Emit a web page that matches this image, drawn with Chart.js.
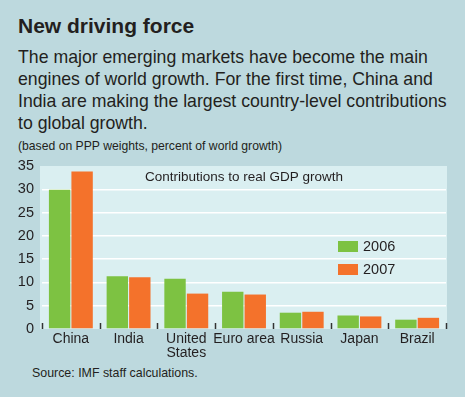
<!DOCTYPE html>
<html>
<head>
<meta charset="utf-8">
<script src="https://cdn.jsdelivr.net/npm/chart.js@4/dist/chart.umd.min.js"></script>
<style>
  body { margin: 0; background: #bdd9de; width: 465px; height: 397px; overflow: hidden; position: relative;
         font-family: "Liberation Sans", Arial, sans-serif; color: #231f20; }
  .txt { position: absolute; left: 18px; white-space: nowrap; }
  #title { top: 14px; font-weight: bold; font-size: 21px; line-height: 24px; }
  #subtitle { top: 46px; font-size: 17.7px; line-height: 22px; }
  #note { top: 139px; font-size: 12.2px; line-height: 14px; }
  #source { left: 32px; top: 366px; font-size: 12.4px; line-height: 14px; }
  #chart { position: absolute; left: 0; top: 0; }
</style>
</head>
<body>
<div class="txt" id="title">New driving force</div>
<div class="txt" id="subtitle">The major emerging markets have become the main<br>engines of world growth. For the first time, China and<br>India are making the largest country-level contributions<br>to global growth.</div>
<div class="txt" id="note">(based on PPP weights, percent of world growth)</div>
<div class="txt" id="source">Source: IMF staff calculations.</div>
<canvas id="chart" width="465" height="397"></canvas>
<script>
// === DATA ===
const categories = ["China", "India", ["United", "States"], "Euro area", "Russia", "Japan", "Brazil"];
const seriesLabels = ["2006", "2007"];
const values2006 = [29.9, 11.3, 10.8, 8.0, 3.5, 2.9, 2.0];
const values2007 = [33.8, 11.1, 7.6, 7.4, 3.7, 2.7, 2.4];
const yMin = 0, yMax = 35, yStep = 5;
const chartLabel = "Contributions to real GDP growth";

const green = "#7dc242";
const orange = "#f4722b";
const textColor = "#231f20";

// plot background
const plotBg = {
  id: "plotBg",
  beforeDraw(chart) {
    const a = chart.chartArea, c = chart.ctx;
    c.save();
    c.fillStyle = "#daeff1";
    c.fillRect(a.left - 2, a.top, a.right - a.left + 3, a.bottom - a.top);
    c.restore();
  }
};

// small ticks between categories, label inside plot, custom legend
const extras = {
  id: "extras",
  afterDatasetsDraw(chart) {
    const a = chart.chartArea, c = chart.ctx, x = chart.scales.x;
    const n = categories.length;
    c.save();
    c.strokeStyle = "#333";
    c.lineWidth = 1.5;
    for (let i = 0; i <= n; i++) {
      const px = Math.round(x.left + i * x.width / n) + 0.5;
      c.beginPath();
      c.moveTo(px, a.bottom - 6);
      c.lineTo(px, a.bottom);
      c.stroke();
    }

    c.fillStyle = textColor;
    c.font = "13.5px 'Liberation Sans', Arial, sans-serif";
    c.textAlign = "center";
    c.textBaseline = "middle";
    c.fillText(chartLabel, (a.left + a.right) / 2, a.top + 11);

    // legend
    c.textAlign = "left";
    c.font = "14.5px 'Liberation Sans', Arial, sans-serif";
    chart.data.datasets.forEach((ds, i) => {
      const bx = a.right - 108, by = a.top + 75 + i * 23;
      c.fillStyle = ds.backgroundColor;
      c.fillRect(bx, by, 20, 11);
      c.fillStyle = textColor;
      c.fillText(ds.label, bx + 25, by + 6);
    });
    c.restore();
  }
};

new Chart(document.getElementById("chart"), {
  type: "bar",
  data: {
    labels: categories,
    datasets: [
      { label: seriesLabels[0], data: values2006, backgroundColor: green },
      { label: seriesLabels[1], data: values2007, backgroundColor: orange }
    ]
  },
  options: {
    responsive: false,
    animation: false,
    datasets: { bar: { categoryPercentage: 0.78, barPercentage: 0.95 } },
    layout: { padding: { left: 0, top: 166, right: 19, bottom: 28 } },
    plugins: { legend: { display: false }, tooltip: { enabled: false } },
    scales: {
      x: {
        grid: { display: false },
        border: { display: false },
        ticks: { color: textColor, font: { size: 14, lineHeight: 1.0, family: "'Liberation Sans', Arial, sans-serif" }, padding: -5, maxRotation: 0, autoSkip: false },
        afterFit: s => { s.height = 40; }
      },
      y: {
        min: yMin, max: yMax,
        border: { display: false },
        grid: {
          drawTicks: false,
          lineWidth: 1.5,
          color: ctx => (ctx.tick && ctx.tick.value > yMin && ctx.tick.value < yMax) ? "#ffffff" : "rgba(0,0,0,0)"
        },
        ticks: { stepSize: yStep, color: textColor, font: { size: 14.5, family: "'Liberation Sans', Arial, sans-serif" }, padding: 8 },
        afterFit: s => { s.width = 42; }
      }
    }
  },
  plugins: [plotBg, extras]
});
</script>
</body>
</html>
